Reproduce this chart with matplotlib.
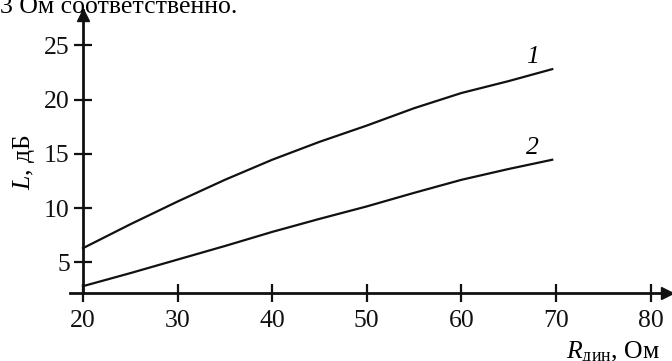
import matplotlib
matplotlib.use("Agg")
import matplotlib.pyplot as plt

plt.rcParams["font.family"] = ["Liberation Serif", "DejaVu Serif"]
plt.rcParams["mathtext.fontset"] = "custom"
plt.rcParams["mathtext.rm"] = "Liberation Serif"
plt.rcParams["mathtext.it"] = "Liberation Serif:italic"

# данные
r_din = [20, 25, 30, 35, 40, 45, 50, 55, 60, 65, 69.6]
L1 = [6.3, 8.5, 10.6, 12.6, 14.45, 16.1, 17.6, 19.2, 20.6, 21.7, 22.8]
L2 = [2.8, 4.0, 5.25, 6.5, 7.8, 9.0, 10.15, 11.4, 12.6, 13.6, 14.45]
xticks = [20, 30, 40, 50, 60, 70, 80]
yticks = [5, 10, 15, 20, 25]
curve_names = ["1", "2"]

fs = 18.5
fig = plt.figure(figsize=(6.72, 3.61), dpi=100)
ax = fig.add_axes([70 / 672, 68 / 361, 602 / 672, 283 / 361])

ax.plot(r_din, L1, color="#111111", lw=1.6)
ax.plot(r_din, L2, color="#111111", lw=1.6)

ax.text(67.5, 23.9, curve_names[0], fontsize=fs, style="italic", ha="center", va="center")
ax.text(67.5, 15.55, curve_names[1], fontsize=fs, style="italic", ha="center", va="center")

ax.set_xlim(18.63, 82.26)
ax.set_ylim(2.17, 28.25)

for s in ["top", "right"]:
    ax.spines[s].set_visible(False)
ax.spines["left"].set_position(("data", 20))
ax.spines["bottom"].set_position(("data", 2.17))
ax.spines["left"].set_linewidth(2.0)
ax.spines["bottom"].set_linewidth(2.0)
ax.spines["left"].set_color("#111111")
ax.spines["bottom"].set_color("#111111")

# стрелки на концах осей
ax.plot(1 - 5 / 602, 2.17, ">", color="#111111", ms=9, transform=ax.get_yaxis_transform(), clip_on=False)
ax.plot(20, 1 - 5 / 283, "^", color="#111111", ms=9, transform=ax.get_xaxis_transform(), clip_on=False)

ax.set_xticks(xticks)
ax.set_yticks(yticks)
ax.tick_params(direction="inout", length=13, width=1.6, labelsize=fs, colors="#111111")
ax.tick_params(axis="x", pad=6)
ax.tick_params(axis="y", pad=3)

fig.text(24 / 672, 1 - 162 / 361, "$L$, дБ", rotation=90, fontsize=fs, ha="center", va="center")
fig.text(566 / 672, 1.5 / 361, r"$R_{\mathrm{дин}}$, Ом", fontsize=fs, ha="left", va="baseline")
fig.text(0.0, 1 - 13 / 361, "3 Ом соответственно.", fontsize=fs, ha="left", va="baseline")

fig.savefig("out.png", dpi=100)
